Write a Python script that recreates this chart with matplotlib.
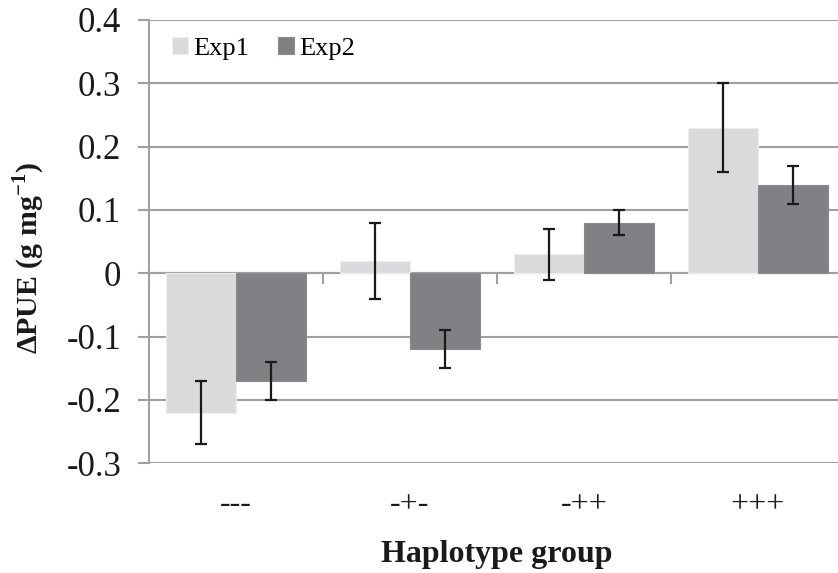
import numpy as np
import matplotlib
matplotlib.use("Agg")
import matplotlib.pyplot as plt

# data
groups = ['---', '-+-', '-++', '+++']
exp1 = [-0.22, 0.02, 0.03, 0.23]
exp1_err = [0.05, 0.06, 0.04, 0.07]
exp2 = [-0.17, -0.12, 0.08, 0.14]
exp2_err = [0.03, 0.03, 0.02, 0.03]

plt.rcParams['font.family'] = ['Liberation Serif', 'DejaVu Serif']
plt.rcParams['mathtext.fontset'] = 'custom'
plt.rcParams['mathtext.bf'] = 'Liberation Serif:bold'
grid_col = '#a0a0a0'

fig = plt.figure(figsize=(8.38, 5.73), dpi=100)
# the original is cropped on the right, so the axes run slightly past the edge
ax = fig.add_axes([149/838, 1 - 463.3/573, 696/838, 443.3/573])

x = np.arange(len(groups))
w = 0.4
ax.bar(x - w/2, exp1, w, color='#d9dadc', edgecolor='#eeeeee', linewidth=0.8,
       label='Exp1', zorder=2)
ax.bar(x + w/2, exp2, w, color='#808184', edgecolor='#8a8b8e', linewidth=0.8,
       label='Exp2', zorder=2)
ax.errorbar(x - w/2, exp1, yerr=exp1_err, fmt='none', ecolor='#1a1a1a',
            elinewidth=1.6, capsize=4.5, capthick=1.6, zorder=3)
ax.errorbar(x + w/2, exp2, yerr=exp2_err, fmt='none', ecolor='#1a1a1a',
            elinewidth=1.6, capsize=4.5, capthick=1.6, zorder=3)

ax.set_xlim(-0.5, len(groups) - 0.5)
ax.set_ylim(-0.3, 0.4)
yt = np.round(np.arange(-0.3, 0.41, 0.1), 1)
ax.set_yticks(yt)
ax.set_yticklabels(['0' if v == 0 else f'{v:.1f}' for v in yt], fontsize=25)
ax.yaxis.grid(True, color=grid_col, linewidth=1.5, zorder=0)
ax.set_axisbelow(True)

for s in ['top', 'right']:
    ax.spines[s].set_visible(False)
ax.spines['left'].set_color(grid_col)
ax.spines['left'].set_linewidth(1.5)
ax.spines['bottom'].set_position(('data', 0))
ax.spines['bottom'].set_color(grid_col)
ax.spines['bottom'].set_linewidth(1.5)
ax.spines['bottom'].set_zorder(1)

ax.tick_params(axis='y', direction='out', length=8, width=1.5, color=grid_col,
               pad=12, labelcolor='#1a1a1a')
ax.set_xticks(x)
ax.set_xticklabels(groups, fontsize=23)
ax.set_xticks(np.arange(-0.5, len(groups), 1.0), minor=True)
ax.tick_params(axis='x', which='major', length=0, pad=156, labelcolor='#1a1a1a')
ax.tick_params(axis='x', which='minor', direction='out', length=8, width=1.5,
               color=grid_col)

ax.set_xlabel('Haplotype group', fontsize=23, fontweight='bold', labelpad=15,
              color='#1a1a1a')
ax.set_ylabel(r'ΔPUE (g mg$^{\mathbf{-1}}$)', fontsize=21.5, fontweight='bold',
              color='#1a1a1a')
ax.yaxis.set_label_coords(-0.147, 0.463)

ax.legend(loc='upper left', bbox_to_anchor=(0.033, 0.962), ncol=2, frameon=False,
          fontsize=19, handlelength=0.6, handleheight=0.6, handletextpad=0.2,
          columnspacing=1.1, borderpad=0, borderaxespad=0)

fig.savefig('out.png', dpi=100)
